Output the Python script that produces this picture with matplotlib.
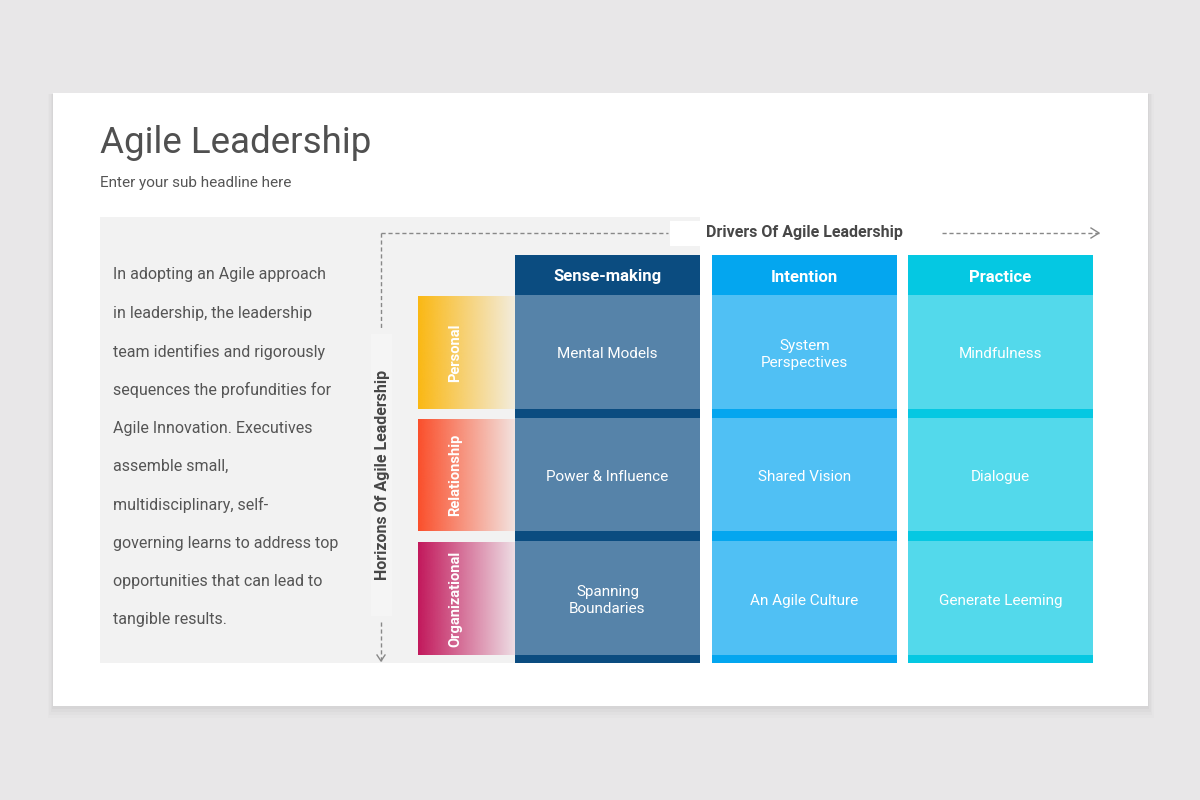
import numpy as np
import matplotlib
matplotlib.use("Agg")
import matplotlib.pyplot as plt
from matplotlib.patches import Rectangle
from matplotlib.colors import to_rgb

# slide content
title = "Agile Leadership"
subtitle = "Enter your sub headline here"
paragraph = [
    "In adopting an Agile approach",
    "in leadership, the leadership",
    "team identifies and rigorously",
    "sequences the profundities for",
    "Agile Innovation. Executives",
    "assemble small,",
    "multidisciplinary, self-",
    "governing learns to address top",
    "opportunities that can lead to",
    "tangible results.",
]
drivers = ["Sense-making", "Intention", "Practice"]
horizons = ["Personal", "Relationship", "Organizational"]
cells = [
    ["Mental Models", "System\nPerspectives", "Mindfulness"],
    ["Power & Influence", "Shared Vision", "Dialogue"],
    ["Spanning\nBoundaries", "An Agile Culture", "Generate Leeming"],
]
x_label = "Drivers Of Agile Leadership"
y_label = "Horizons Of Agile Leadership"

head_colors = ["#0b4c80", "#04a6ef", "#05c8e2"]
body_colors = ["#5683a9", "#50c0f4", "#53d9eb"]
row_colors = ["#fbb813", "#fb4f2b", "#c2185b"]

plt.rcParams["font.family"] = ["Roboto", "DejaVu Sans"]

fig = plt.figure(figsize=(12, 8), dpi=100)
ax = fig.add_axes([0, 0, 1, 1])
fig.patch.set_facecolor("#e8e7e8")

# card with soft shadow
for i, a in enumerate([0.025, 0.02, 0.015, 0.01]):
    d = 2 + i * 3
    ax.add_patch(Rectangle((53 - d / 2, 93 + 1), 1095 + d, 613 + d, color="black", alpha=a, lw=0))
ax.add_patch(Rectangle((53, 93), 1095, 613, color="white", lw=0))

ax.text(100, 143, title, fontsize=26.5, color="#505050", va="center", ha="left")
ax.text(100, 183, subtitle, fontsize=11, color="#555555", va="center", ha="left")

# gray panel
ax.add_patch(Rectangle((100, 217), 600, 446, color="#f2f2f2", lw=0))
for i, line in enumerate(paragraph):
    ax.text(113, 275 + i * 38.3, line, fontsize=11.5, color="#555555", va="center", ha="left")

# axis arrows
ax.add_patch(Rectangle((670, 221), 270, 25, color="white", lw=0))
ax.plot([381, 668], [233, 233], ls=(0, (3, 2)), color="#888888", lw=1)
ax.plot([381, 381], [233, 328], ls=(0, (3, 2)), color="#888888", lw=1)
ax.plot([381, 381], [622, 661], ls=(0, (3, 2)), color="#888888", lw=1)
ax.plot([377, 381, 385], [655, 661, 655], color="#888888", lw=1)
ax.plot([942, 1099], [233, 233], ls=(0, (3, 2)), color="#888888", lw=1)
ax.plot([1091, 1099, 1091], [228, 233, 238], color="#888888", lw=1)
ax.text(804, 233, x_label, fontsize=11.5, fontweight="bold", color="#474747", ha="center", va="center")
ax.add_patch(Rectangle((371, 334), 21, 282, color="#f5f5f5", lw=0))
ax.text(382, 475, y_label, fontsize=11.5, fontweight="bold", color="#474747", ha="center", va="center",
        rotation=90)

# row labels with fading gradient
row_top = [296, 419, 542]
row_h = [113, 112, 113]
for r, name in enumerate(horizons):
    rgb = np.array(to_rgb(row_colors[r]))
    n = 200
    grad = np.zeros((1, n, 4))
    grad[0, :, :3] = rgb
    grad[0, :, 3] = np.linspace(1.0, 0.1, n)
    ax.imshow(grad, extent=[418, 515, row_top[r] + row_h[r], row_top[r]], aspect="auto",
              interpolation="bilinear", zorder=2)
    ax.text(455, row_top[r] + row_h[r] / 2, name, fontsize=10.5, fontweight="bold", color="white",
            rotation=90, ha="center", va="center", zorder=3)

# driver columns
col_x = [515, 712, 908]
col_w = 185
for c, name in enumerate(drivers):
    x0 = col_x[c]
    ax.add_patch(Rectangle((x0, 255), col_w, 408, color=head_colors[c], lw=0, zorder=4))
    ax.text(x0 + col_w / 2, 277, name, fontsize=12, fontweight="bold", color="white",
            ha="center", va="center", zorder=6)
    for r in range(len(horizons)):
        ax.add_patch(Rectangle((x0, row_top[r] - 1), col_w, row_h[r] + 1, color=body_colors[c],
                               lw=0, zorder=5))
        ax.text(x0 + col_w / 2, row_top[r] + row_h[r] / 2 + 2, cells[r][c], fontsize=11, color="white",
                ha="center", va="center", linespacing=1.3, zorder=6)

ax.set_xlim(0, 1200)
ax.set_ylim(800, 0)
ax.axis("off")
fig.savefig("out.png", dpi=100, facecolor=fig.get_facecolor())
